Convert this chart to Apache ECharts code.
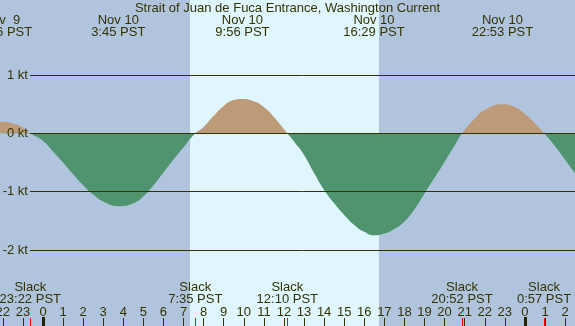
<!DOCTYPE html>
<html>
<head>
<meta charset="utf-8">
<script src="https://cdn.jsdelivr.net/npm/echarts@6/dist/echarts.min.js"></script>
<style>
  html, body { margin: 0; padding: 0; }
  #chart { width: 575px; height: 326px; }
</style>
</head>
<body>
<div id="chart"></div>
<script>
// hours counted from Nov 10 00:00 PST
const hours = [-2.5, -2.067, -1.5, -1, -0.633, 0, 0.5, 1, 1.5, 2, 2.5, 3, 3.75, 4.5, 5, 5.5, 6, 6.5, 7, 7.583,
  8, 8.5, 9, 9.5, 9.933, 10.5, 11, 11.5, 12.167, 12.5, 13, 13.5, 14, 14.5, 15, 15.5, 16, 16.483, 17, 17.5, 18,
  18.5, 19, 19.5, 20, 20.5, 20.867, 21.5, 22, 22.883, 23.5, 24, 24.5, 24.95, 25.5, 26, 26.5, 27]
// current speed in knots
const knots = [0.18, 0.2, 0.17, 0.1, 0, -0.13, -0.31, -0.5, -0.7, -0.89, -1.05, -1.17, -1.25, -1.2, -1.08, -0.89, -0.67, -0.45, -0.24, 0,
  0.11, 0.3, 0.47, 0.57, 0.59, 0.55, 0.45, 0.28, 0, -0.14, -0.37, -0.68, -0.97, -1.2, -1.4, -1.57, -1.69, -1.75, -1.72, -1.64, -1.51,
  -1.3, -1.03, -0.76, -0.49, -0.21, 0, 0.25, 0.4, 0.5, 0.45, 0.33, 0.17, 0, -0.22, -0.45, -0.69, -0.9]

const hourTicks = [-2, -1, 0, 1, 2, 3, 4, 5, 6, 7, 8, 9, 10, 11, 12, 13, 14, 15, 16, 17, 18, 19, 20, 21, 22, 23, 24, 25, 26]
const midnights = [0, 24]

const peakTimes = [-2.067, 3.75, 9.933, 16.483, 22.883]
const peakLabels = ['Nov  9\n21:56 PST', 'Nov 10\n3:45 PST', 'Nov 10\n9:56 PST', 'Nov 10\n16:29 PST', 'Nov 10\n22:53 PST']

const slackTimes = [-0.633, 7.583, 12.167, 20.867, 24.95]
const slackLabels = ['Slack\n23:22 PST', 'Slack\n7:35 PST', 'Slack\n12:10 PST', 'Slack\n20:52 PST', 'Slack\n0:57 PST']

const levels = [1, 0, -1, -2]
const daylight = [7.32, 16.73]

const textColor = '#333300'
const font = 'Liberation Sans'
const xMin = -2.141
const xMax = 26.494

function pick(times, labels, v) {
  let best = 0
  times.forEach((t, i) => {
    if (Math.abs(t - v) < Math.abs(times[best] - v)) best = i
  })
  return labels[best]
}

function baseAxis(extra) {
  return Object.assign({
    type: 'value',
    min: xMin,
    max: xMax,
    position: 'bottom',
    z: 10,
    axisLine: { show: false, onZero: false },
    splitLine: { show: false },
    axisTick: { show: false },
    axisLabel: { show: false },
  }, extra)
}

let chart = echarts.init(document.getElementById('chart'), null, { renderer: 'canvas' })
let option = {
  animation: false,
  backgroundColor: '#b0c4de',
  title: {
    text: 'Strait of Juan de Fuca Entrance, Washington Current',
    left: 'center',
    top: 1,
    padding: 0,
    z: 10,
    textStyle: { color: textColor, fontFamily: font, fontSize: 13, fontWeight: 'normal', lineHeight: 14 },
  },
  grid: { left: 0, right: 0, top: 0, bottom: 0, outerBoundsMode: 'none', containLabel: false },
  xAxis: [
    baseAxis({
      axisTick: { show: true, inside: true, length: 8, customValues: hourTicks, lineStyle: { color: textColor, width: 1 } },
      axisLabel: {
        show: true,
        inside: true,
        margin: 14,
        verticalAlign: 'middle',
        customValues: hourTicks,
        color: textColor,
        fontFamily: font,
        fontSize: 13,
        formatter: (v) => String(((Math.round(v) % 24) + 24) % 24),
      },
    }),
    baseAxis({
      axisTick: { show: true, inside: true, length: 9, customValues: midnights, lineStyle: { color: '#222200', width: 3 } },
    }),
    baseAxis({
      axisTick: { show: true, inside: true, length: 8, customValues: slackTimes, lineStyle: { color: '#ff0000', width: 1 } },
      axisLabel: {
        show: true,
        inside: true,
        margin: 33,
        verticalAlign: 'middle',
        customValues: slackTimes,
        color: textColor,
        fontFamily: font,
        fontSize: 13,
        lineHeight: 12,
        formatter: (v) => pick(slackTimes, slackLabels, v),
      },
    }),
    baseAxis({
      position: 'top',
      axisLabel: {
        show: true,
        inside: true,
        margin: 26,
        verticalAlign: 'middle',
        customValues: peakTimes,
        color: textColor,
        fontFamily: font,
        fontSize: 13,
        lineHeight: 12,
        formatter: (v) => pick(peakTimes, peakLabels, v),
      },
    }),
  ],
  yAxis: { type: 'value', show: false, min: -3.304, max: 2.286 },
  visualMap: {
    show: false,
    type: 'piecewise',
    dimension: 1,
    seriesIndex: 2,
    pieces: [
      { gte: -10, lt: 0, color: '#50946f' },
      { gte: 0, lte: 10, color: '#bd9a78' },
    ],
  },
  series: [
    {
      type: 'line',
      z: 1,
      data: [],
      silent: true,
      markArea: {
        silent: true,
        itemStyle: { color: '#dff6fe', opacity: 1 },
        data: [[{ xAxis: daylight[0] }, { xAxis: daylight[1] }]],
      },
    },
    {
      type: 'line',
      z: 2,
      data: [],
      silent: true,
      markLine: {
        silent: true,
        symbol: 'none',
        lineStyle: { color: textColor, width: 1, type: 'solid' },
        label: {
          position: 'start',
          distance: 2,
          formatter: '{b}',
          color: textColor,
          fontFamily: font,
          fontSize: 13,
        },
        data: levels.map((v) => [
          { name: v + ' kt', coord: [-0.65, v] },
          { coord: [xMax, v] },
        ]),
      },
    },
    {
      type: 'line',
      z: 3,
      data: hours.map((h, i) => [h, knots[i]]),
      smooth: 0.5,
      symbol: 'none',
      silent: true,
      lineStyle: { opacity: 0 },
      areaStyle: { opacity: 1 },
    },
  ],
}
chart.setOption(option)
window.addEventListener('resize', () => {
  chart.resize()
})
</script>
</body>
</html>
